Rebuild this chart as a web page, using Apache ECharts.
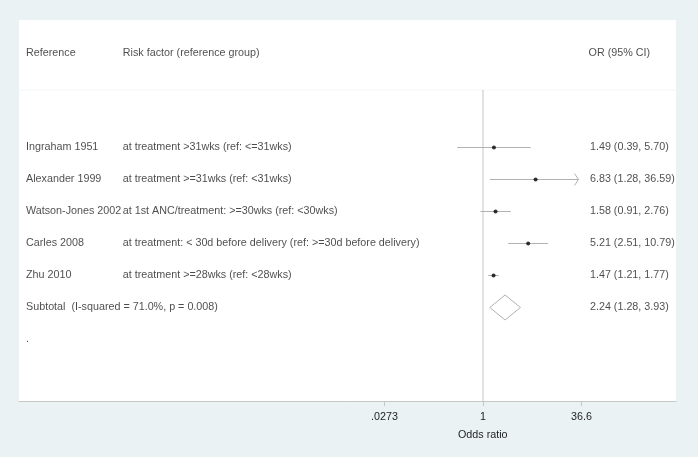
<!DOCTYPE html>
<html>
<head>
<meta charset="utf-8">
<script src="https://cdn.jsdelivr.net/npm/echarts@6/dist/echarts.min.js"></script>
<style>
  html, body { margin: 0; padding: 0; background: #eaf2f3; }
  #chart { width: 698px; height: 457px; }
</style>
</head>
<body>
<div id="chart"></div>
<script>
// ----- data -----
var studies = ['Ingraham 1951', 'Alexander 1999', 'Watson-Jones 2002', 'Carles 2008', 'Zhu 2010'];
var riskFactors = [
  'at treatment >31wks (ref: <=31wks)',
  'at treatment >=31wks (ref: <31wks)',
  'at 1st ANC/treatment: >=30wks (ref: <30wks)',
  'at treatment: < 30d before delivery (ref: >=30d before delivery)',
  'at treatment >=28wks (ref: <28wks)'
];
var oddsRatio = [1.49, 6.83, 1.58, 5.21, 1.47];
var ciLower = [0.39, 1.28, 0.91, 2.51, 1.21];
var ciUpper = [5.70, 36.59, 2.76, 10.79, 1.77];
var studyRows = [1, 2, 3, 4, 5];

var pooledLabel = 'Subtotal  (I-squared = 71.0%, p = 0.008)';
var pooled = [2.24, 1.28, 3.93];   // estimate, lower, upper
var pooledRow = 6;
var dotRow = 7;

var headers = ['Reference', 'Risk factor (reference group)', 'OR (95% CI)'];
var headerRow = -1.95;

var tickValues = [0.0273, 1, 36.6];
var tickLabels = ['.0273', '1', '36.6'];
var axisTitle = 'Odds ratio';

// ----- layout -----
var ink = '#1e1e1e';
var ciGrey = '#b2b2b2';
var ruleGrey = '#c6c6c6';
var font = '"Liberation Sans", Arial, Helvetica, sans-serif';
var fs = 10.75;

// plot spans the full white area; log axis extends far left for the text columns
var decadeLeft = -7.365, decadeRight = 3.063;
var rowTop = -2.984, rowBottom = 8.922, nullTop = -0.797;
var colRef = 0.0107, colRisk = 0.158, colOR = 0.869;
var xLimit = tickValues[tickValues.length - 1];

function fmt(v) { return v.toFixed(2); }

var ciData = studyRows.map(function(r, i) { return [ciLower[i], ciUpper[i], r]; });
var pointData = studyRows.map(function(r, i) { return [oddsRatio[i], r]; });

var textRef = studyRows.map(function(r, i) { return [colRef, r, studies[i]]; });
textRef.push([colRef, pooledRow, pooledLabel]);
textRef.push([colRef, dotRow, '.']);
var textRisk = studyRows.map(function(r, i) { return [colRisk, r, riskFactors[i]]; });
var textOR = studyRows.map(function(r, i) {
  return [colOR, r, fmt(oddsRatio[i]) + ' (' + fmt(ciLower[i]) + ', ' + fmt(ciUpper[i]) + ')'];
});
textOR.push([colOR, pooledRow, fmt(pooled[0]) + ' (' + fmt(pooled[1]) + ', ' + fmt(pooled[2]) + ')']);
var textHead = [[colRef, headerRow, headers[0]], [colRisk, headerRow, headers[1]], [colOR - 0.002, headerRow, headers[2]]];

function textSeries(data) {
  return {
    type: 'scatter', xAxisIndex: 1, yAxisIndex: 0, symbolSize: 0, silent: true,
    data: data,
    label: {
      show: true, position: 'right', distance: 0,
      color: ink, fontFamily: font, fontSize: fs,
      formatter: function(p) { return p.value[2]; }
    }
  };
}

var chart = echarts.init(document.getElementById('chart'), null, { renderer: 'canvas' });
chart.setOption({
  animation: false,
  backgroundColor: '#eaf2f3',
  grid: { left: 19, right: 22, top: 20, bottom: 56, show: true, backgroundColor: '#fff', borderWidth: 0 },
  xAxis: [{
    type: 'log',
    min: Math.pow(10, decadeLeft),
    max: Math.pow(10, decadeRight),
    axisLine: { show: true, onZero: false, lineStyle: { color: ruleGrey, width: 1 } },
    axisTick: { show: true, customValues: tickValues, length: 5, lineStyle: { color: ruleGrey } },
    axisLabel: {
      show: true, customValues: tickValues, margin: 11,
      color: ink, fontFamily: font, fontSize: fs,
      formatter: function(v) {
        for (var i = 0; i < tickValues.length; i++) {
          if (Math.abs(v - tickValues[i]) < 1e-6 * tickValues[i]) return tickLabels[i];
        }
        return '';
      }
    },
    splitLine: { show: false },
    minorTick: { show: false }
  }, {
    type: 'value', min: 0, max: 1, show: false
  }],
  yAxis: {
    type: 'value', inverse: true, min: rowTop, max: rowBottom, show: false
  },
  graphic: [{
    type: 'line', silent: true,
    shape: { x1: 19, y1: 90, x2: 676, y2: 90 },
    style: { stroke: '#f3f5f5', lineWidth: 1 }
  }, {
    type: 'text', left: 483 - 25, top: 430,
    style: { text: axisTitle, fill: ink, font: fs + 'px ' + font, width: 50, align: 'center' }
  }],
  series: [
    {
      // null line at OR = 1
      type: 'line', symbol: 'none', silent: true, z: 1,
      data: [[1, nullTop], [1, rowBottom]],
      lineStyle: { color: ruleGrey, width: 1 }
    },
    {
      // confidence intervals, arrow when beyond the axis range
      type: 'custom', silent: true, z: 2,
      data: ciData,
      encode: { x: [0, 1], y: 2 },
      renderItem: function(params, api) {
        var lo = api.value(0), hi = api.value(1), r = api.value(2);
        var capped = hi >= xLimit * 0.999;
        var a = api.coord([lo, r]);
        var b = api.coord([capped ? xLimit : hi, r]);
        var children = [];
        if (capped) b[0] -= 3;
        children.push({ type: 'line', shape: { x1: a[0], y1: a[1], x2: b[0], y2: b[1] },
          style: { stroke: ciGrey, lineWidth: 1 } });
        if (capped) {
          children.push({ type: 'polyline',
            shape: { points: [[b[0] - 4, b[1] - 6], [b[0], b[1]], [b[0] - 4, b[1] + 6]] },
            style: { stroke: ciGrey, lineWidth: 1, fill: null } });
        }
        return { type: 'group', children: children };
      }
    },
    {
      // pooled estimate diamond
      type: 'custom', silent: true, z: 2,
      data: [[pooled[0], pooled[1], pooled[2], pooledRow]],
      encode: { x: [0, 1, 2], y: 3 },
      renderItem: function(params, api) {
        var est = api.value(0), lo = api.value(1), hi = api.value(2), r = api.value(3);
        var pts = [api.coord([lo, r]), api.coord([est, r - 0.39]), api.coord([hi, r]), api.coord([est, r + 0.39])];
        return { type: 'polygon', shape: { points: pts },
          style: { stroke: ciGrey, lineWidth: 1, fill: '#fff' } };
      }
    },
    {
      type: 'scatter', silent: true, z: 3,
      data: pointData,
      symbol: 'circle', symbolSize: 4,
      itemStyle: { color: '#000' }
    },
    textSeries(textHead),
    textSeries(textRef),
    textSeries(textRisk),
    textSeries(textOR)
  ]
});
</script>
</body>
</html>
